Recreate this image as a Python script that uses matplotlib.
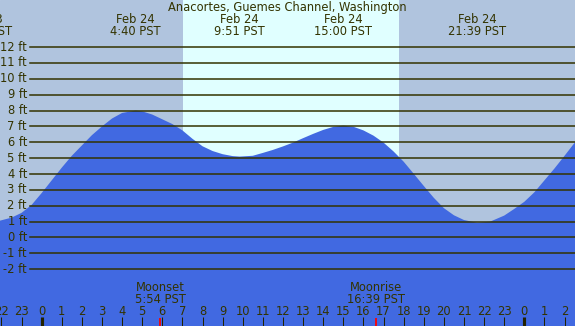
import matplotlib
matplotlib.use('Agg')
import matplotlib.pyplot as plt

# Tide height (ft), hours since midnight Feb 24 (PST)
tide_hours = [-2.07, -1.5, -1, -0.5, 0, 0.5, 1, 1.5, 2, 2.5, 3, 3.5, 4, 4.67, 5, 5.5, 6, 6.5, 7,
              7.5, 8, 8.5, 9, 9.5, 9.85, 10.5, 11, 11.5, 12, 12.5, 13, 13.5, 14, 14.5, 15, 15.5,
              16, 16.5, 17, 17.5, 18, 18.5, 19, 19.5, 20, 20.5, 21, 21.65, 22.3, 23, 23.5, 24,
              24.5, 25, 25.5, 26, 26.52]
tide_ft = [1.06, 1.25, 1.55, 2.05, 2.8, 3.6, 4.4, 5.15, 5.8, 6.45, 7.0, 7.5, 7.85, 8.0, 7.95, 7.75,
           7.45, 7.15, 6.75, 6.22, 5.75, 5.45, 5.25, 5.13, 5.1, 5.15, 5.33, 5.52, 5.74, 5.98, 6.26,
           6.53, 6.78, 6.97, 7.05, 6.98, 6.75, 6.42, 5.98, 5.42, 4.78, 4.02, 3.25, 2.5, 1.85, 1.4,
           1.1, 0.93, 1.0, 1.38, 1.8, 2.25, 2.85, 3.6, 4.35, 5.15, 6.0]

# high / low tide labels
extreme_hours = [-2.92, 4.67, 9.85, 15.0, 21.65]
extreme_dates = ['Feb 23', 'Feb 24', 'Feb 24', 'Feb 24', 'Feb 24']
extreme_times = ['21:05 PST', '4:40 PST', '9:51 PST', '15:00 PST', '21:39 PST']

# moon events
moon_hours = [5.9, 16.65]
moon_names = ['Moonset', 'Moonrise']
moon_times = ['5:54 PST', '16:39 PST']

sunrise = 7.03
sunset = 17.77

ft_levels = list(range(-2, 13))
hour_ticks = list(range(-2, 27))
hour_labels = [str(h % 24) for h in hour_ticks]

title = 'Anacortes, Guemes Channel, Washington'

W, H = 575, 326
txt = '#333300'
fs = 8.3

fig = plt.figure(figsize=(W / 100, H / 100), dpi=100)
ax = fig.add_axes([0, 0, 1, 1])
ax.set_xlim(-2.07, 26.52)
ax.set_ylim(-5.58, 14.97)
ax.axis('off')
ax.add_patch(plt.Rectangle((0, 0), 1, 1, transform=ax.transAxes, color='#b0c4de', zorder=0))

def ypix(py):
    # pixel row (from top) -> axes fraction
    return 1 - py / H

ax.axvspan(sunrise, sunset, color='#e0ffff', zorder=1, lw=0)
ax.fill_between(tide_hours, tide_ft, -6, color='#4169e1', zorder=2, lw=0)

for lv in ft_levels:
    ax.axhline(lv, xmin=29.5 / W, xmax=1, color=txt, lw=1.1, zorder=3)
    ax.text(27 / W, lv, f'{lv} ft', transform=ax.get_yaxis_transform(), ha='right',
            va='center', fontsize=fs, color=txt, zorder=4)

trans = ax.get_xaxis_transform()
ax.text(0.5, ypix(7), title, transform=ax.transAxes, ha='center', va='center',
        fontsize=fs, color=txt)
for h, d, t in zip(extreme_hours, extreme_dates, extreme_times):
    ax.text(h, ypix(19.5), d, transform=trans, ha='center', va='center', fontsize=fs, color=txt)
    ax.text(h, ypix(31.5), t, transform=trans, ha='center', va='center', fontsize=fs, color=txt)

for h, n, t in zip(moon_hours, moon_names, moon_times):
    ax.text(h, ypix(287.5), n, transform=trans, ha='center', va='center', fontsize=fs,
            color=txt, zorder=4)
    ax.text(h, ypix(299.5), t, transform=trans, ha='center', va='center', fontsize=fs,
            color=txt, zorder=4)
    ax.plot([h, h], [ypix(317.5), 0], transform=trans, color='red', lw=1.3, zorder=4,
            solid_capstyle='butt')

for h, lab in zip(hour_ticks, hour_labels):
    ax.text(h, ypix(311.5), lab, transform=trans, ha='center', va='center', fontsize=fs,
            color=txt, zorder=4)
    w = 3.0 if h % 24 == 0 else 1.0
    ax.plot([h, h], [ypix(317), 0], transform=trans, color='#222200', lw=w * 0.75, zorder=4,
            solid_capstyle='butt')

fig.savefig('out.png', dpi=100)
